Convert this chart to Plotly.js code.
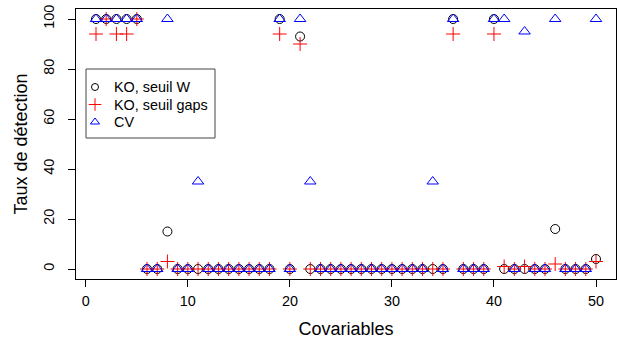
<!DOCTYPE html>
<html>
<head>
<meta charset="utf-8">
<script src="https://cdn.plot.ly/plotly-3.0.1.min.js"></script>
<style>
  html, body { margin: 0; padding: 0; background: #fff; }
  #chart { width: 619px; height: 340px; }
</style>
</head>
<body>
<div id="chart"></div>
<script>
const covariables = [1,2,3,4,5,6,7,8,9,10,11,12,13,14,15,16,17,18,19,20,21,22,23,24,25,26,27,28,29,30,31,32,33,34,35,36,37,38,39,40,41,42,43,44,45,46,47,48,49,50];
const koSeuilW = [100,100,100,100,100,0,0,15,0,0, 0,0,0,0,0,0,0,0,100,0, 93,0,0,0,0,0,0,0,0,0, 0,0,0,0,0,100,0,0,0,100, 0,0,0,0,0,16,0,0,0,4];
const koSeuilGaps = [94,100,94,94,100,0,0,3,0,0, 0,0,0,0,0,0,0,0,94,0, 90,0,0,0,0,0,0,0,0,0, 0,0,0,0,0,94,0,0,0,94, 1,0,1,0,0,2,0,0,0,3];
const cv = [100,100,100,100,100,0,0,100,0,0, 35,0,0,0,0,0,0,0,100,0, 100,35,0,0,0,0,0,0,0,0, 0,0,0,35,0,100,0,0,0,100, 100,0,95,0,0,100,0,0,0,100];
const seriesNames = ["KO, seuil W", "KO, seuil gaps", "CV"];
const xTicks = [0,10,20,30,40,50];
const yTicks = [0,20,40,60,80,100];

const FONT = "Liberation Sans, Arial, Helvetica, sans-serif";
const TICK_SIZE = 14.4;

const styles = [
  { symbol: "circle-open", size: 9, color: "#000000", legSize: 7 },
  { symbol: "cross-thin-open", size: 10, color: "#FF0000", legSize: 9 },
  { symbol: "triangle-up-open", size: 10, color: "#0000FF", legSize: 8 }
];
const seriesValues = [koSeuilW, koSeuilGaps, cv];

const traces = seriesValues.map((vals, i) => ({
  x: covariables, y: vals, name: seriesNames[i], type: "scatter", mode: "markers",
  showlegend: false, hoverinfo: "skip",
  marker: { symbol: styles[i].symbol, size: styles[i].size, color: styles[i].color,
            line: { width: 1, color: styles[i].color } }
}));

// Hand-drawn legend (R style): box, keys on an overlay unit axis, labels as annotations
const plotL = 76, plotR = 616, plotT = 9, plotB = 279;
const pxToX = px => (px - plotL) / (plotR - plotL);
const pyToY = py => (plotB - py) / (plotB - plotT);
const legKeyX = 95, legTextX = 112, legRowY = [87, 104.5, 122];

seriesNames.forEach((nm, i) => {
  traces.push({
    x: [pxToX(legKeyX)], y: [pyToY(legRowY[i])], xaxis: "x2", yaxis: "y2",
    type: "scatter", mode: "markers", showlegend: false, hoverinfo: "skip",
    marker: { symbol: styles[i].symbol, size: styles[i].legSize, color: styles[i].color,
              line: { width: 1, color: styles[i].color } }
  });
});

const annotations = seriesNames.map((nm, i) => ({
  text: nm, xref: "paper", yref: "paper",
  x: pxToX(legTextX), y: pyToY(legRowY[i]), xanchor: "left", yanchor: "middle",
  showarrow: false, font: { family: FONT, size: TICK_SIZE, color: "#000000" }
}));

const layout = {
  width: 619, height: 340,
  margin: { l: 76, r: 3, t: 9, b: 61 },
  paper_bgcolor: "#ffffff", plot_bgcolor: "#ffffff",
  font: { family: FONT, size: TICK_SIZE, color: "#000000" },
  showlegend: false,
  annotations: annotations,
  shapes: [{
    type: "rect", xref: "paper", yref: "paper",
    x0: pxToX(86), x1: pxToX(215), y0: pyToY(138), y1: pyToY(69),
    line: { color: "#444444", width: 1 }, fillcolor: "rgba(0,0,0,0)"
  }],
  xaxis: {
    range: [-0.96, 51.96], autorange: false,
    tickmode: "array", tickvals: xTicks, ticktext: xTicks.map(String),
    ticks: "outside", ticklen: 7, tickwidth: 1, tickcolor: "#000000",
    showline: true, mirror: true, linecolor: "#000000", linewidth: 1,
    showgrid: false, zeroline: false,
    ticklabelstandoff: 2,
    tickfont: { family: FONT, size: TICK_SIZE },
    title: { text: "Covariables", font: { family: FONT, size: 18 }, standoff: 14 }
  },
  yaxis: {
    range: [-4, 104], autorange: false,
    tickmode: "array", tickvals: yTicks, ticktext: yTicks.map(String),
    ticks: "outside", ticklen: 7, tickwidth: 1, tickcolor: "#000000",
    tickangle: -90,
    showline: true, mirror: true, linecolor: "#000000", linewidth: 1,
    showgrid: false, zeroline: false,
    ticklabelstandoff: 8,
    tickfont: { family: FONT, size: TICK_SIZE },
    title: { text: "Taux de détection", font: { family: FONT, size: 18 }, standoff: 8 }
  },
  xaxis2: { overlaying: "x", anchor: "y2", range: [0, 1], autorange: false, visible: false, fixedrange: true },
  yaxis2: { overlaying: "y", anchor: "x2", range: [0, 1], autorange: false, visible: false, fixedrange: true }
};

Plotly.newPlot("chart", traces, layout, { displayModeBar: false, staticPlot: true });
</script>
</body>
</html>
